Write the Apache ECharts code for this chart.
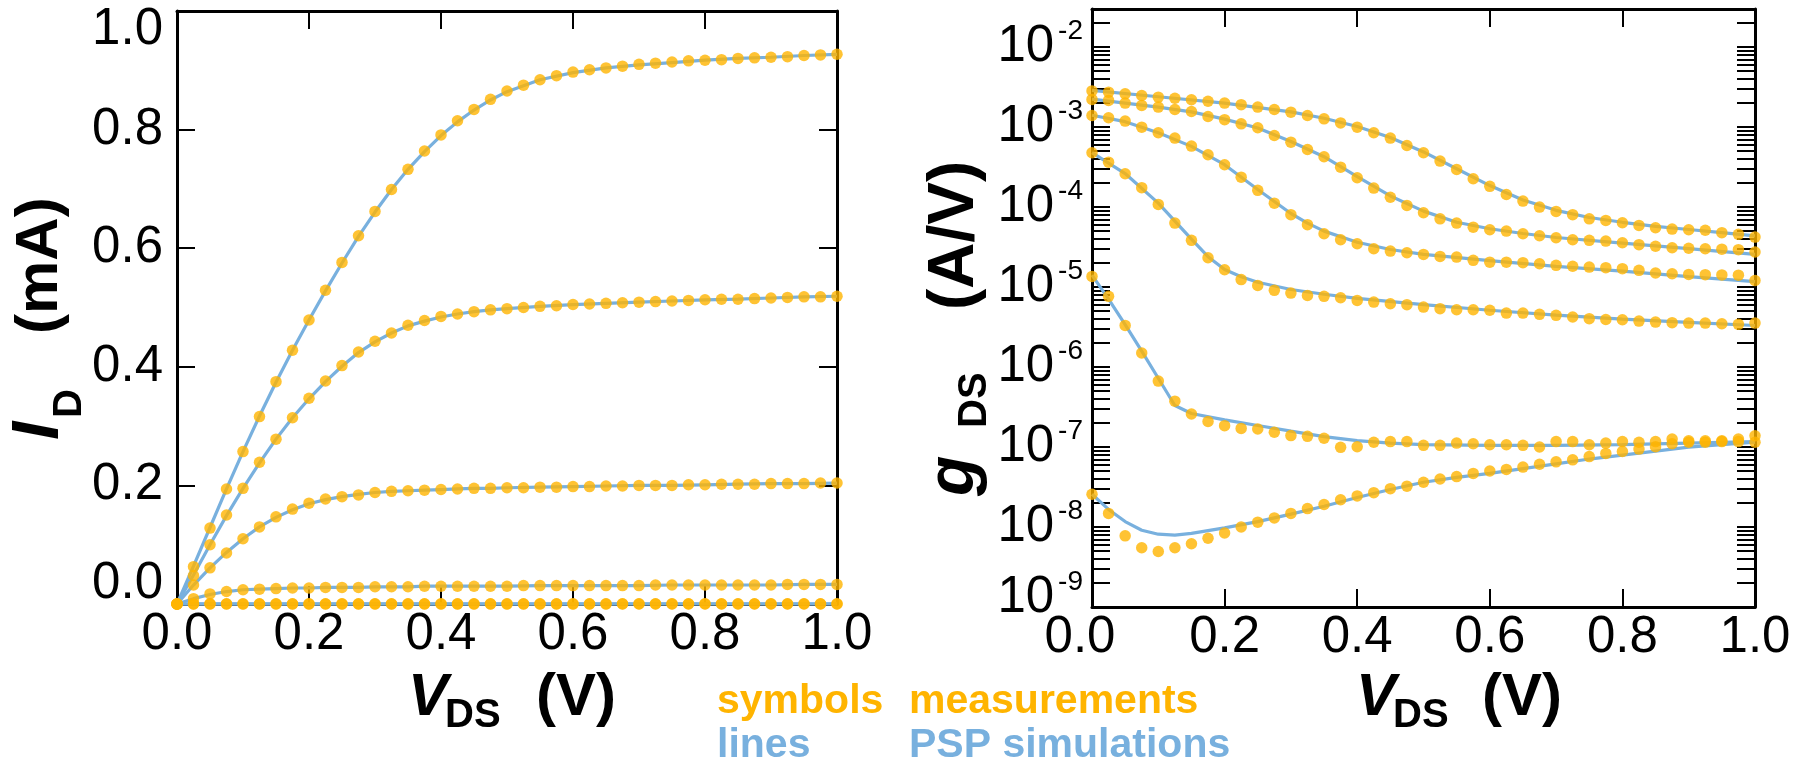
<!DOCTYPE html>
<html><head><meta charset="utf-8">
<script src="https://cdn.jsdelivr.net/npm/echarts@6/dist/echarts.min.js"></script>
<style>html,body{margin:0;padding:0;background:#fff}#c{width:1798px;height:762px}</style>
</head><body><div id="c"></div>
<script>
// ---------- DATA ----------
const vds = [0,0.025,0.05,0.075,0.1,0.125,0.15,0.175,0.2,0.225,0.25,0.275,0.3,0.325,0.35,0.375,0.4,0.425,0.45,0.475,0.5,0.525,0.55,0.575,0.6,0.625,0.65,0.675,0.7,0.725,0.75,0.775,0.8,0.825,0.85,0.875,0.9,0.925,0.95,0.975,1.0];

// I_D measurements (mA)
const idMeas1 = [0,0.063,0.128,0.194,0.257,0.316,0.375,0.428,0.479,0.529,0.576,0.621,0.662,0.699,0.733,0.764,0.791,0.815,0.834,0.851,0.865,0.875,0.884,0.891,0.897,0.901,0.904,0.907,0.910,0.912,0.914,0.916,0.917,0.918,0.920,0.921,0.922,0.923,0.925,0.926,0.927];
const idMeas2 = [0,0.048,0.100,0.150,0.195,0.239,0.278,0.314,0.347,0.376,0.402,0.425,0.443,0.457,0.470,0.478,0.485,0.489,0.493,0.496,0.498,0.500,0.502,0.503,0.505,0.506,0.507,0.508,0.509,0.510,0.511,0.512,0.513,0.514,0.514,0.515,0.516,0.517,0.518,0.518,0.519];
const idMeas3 = [0,0.032,0.061,0.086,0.110,0.130,0.147,0.160,0.170,0.177,0.181,0.184,0.188,0.190,0.191,0.192,0.193,0.194,0.195,0.195,0.196,0.196,0.197,0.197,0.198,0.198,0.199,0.199,0.200,0.200,0.200,0.201,0.201,0.202,0.202,0.202,0.203,0.203,0.203,0.204,0.204];
const idMeas4 = [0,0.009,0.017,0.021,0.024,0.025,0.026,0.027,0.027,0.028,0.028,0.028,0.029,0.029,0.029,0.030,0.030,0.030,0.030,0.030,0.030,0.031,0.031,0.031,0.031,0.031,0.031,0.031,0.031,0.032,0.032,0.032,0.032,0.032,0.032,0.032,0.032,0.033,0.033,0.033,0.033];
const idMeas5 = [0,0.0002,0.0003,0.0003,0.0003,0.0003,0.0003,0.0003,0.0003,0.0003,0.0003,0.0003,0.0003,0.0003,0.0003,0.0003,0.0003,0.0003,0.0003,0.0003,0.0003,0.0003,0.0003,0.0003,0.0003,0.0003,0.0003,0.0004,0.0004,0.0004,0.0004,0.0004,0.0004,0.0004,0.0004,0.0004,0.0004,0.0004,0.0004,0.0004,0.0004];
const idMeas6 = [0,0.00001,0.00001,0.00001,0.00001,0.00001,0.00001,0.00001,0.00001,0.00001,0.00001,0.00001,0.00001,0.00001,0.00001,0.00001,0.00001,0.00001,0.00001,0.00001,0.00001,0.00002,0.00002,0.00002,0.00002,0.00002,0.00002,0.00002,0.00002,0.00002,0.00002,0.00002,0.00002,0.00002,0.00002,0.00002,0.00002,0.00002,0.00002,0.00002,0.00002];

// I_D PSP simulations (mA) - lines run through the symbols
const idSimV = [0,0.025,0.05,0.075,0.1,0.125,0.15,0.175,0.2,0.225,0.25,0.275,0.3,0.325,0.35,0.375,0.4,0.425,0.45,0.475,0.5,0.55,0.6,0.65,0.7,0.75,0.8,0.85,0.9,0.95,1.0];
const idSim1 = [0,0.064,0.129,0.194,0.257,0.317,0.374,0.428,0.479,0.528,0.575,0.620,0.661,0.699,0.733,0.763,0.790,0.813,0.833,0.850,0.864,0.884,0.896,0.904,0.909,0.913,0.917,0.920,0.922,0.925,0.927];
const idSim2 = [0,0.049,0.100,0.149,0.195,0.238,0.278,0.314,0.346,0.375,0.401,0.424,0.442,0.457,0.469,0.477,0.484,0.489,0.493,0.496,0.498,0.502,0.505,0.507,0.509,0.511,0.513,0.514,0.516,0.518,0.519];
const idSim3 = [0,0.032,0.061,0.087,0.110,0.130,0.146,0.159,0.169,0.176,0.181,0.185,0.188,0.190,0.191,0.192,0.193,0.194,0.195,0.195,0.196,0.197,0.198,0.199,0.200,0.200,0.201,0.202,0.203,0.203,0.204];
const idSim4 = [0,0.009,0.016,0.021,0.024,0.025,0.026,0.027,0.027,0.028,0.028,0.028,0.029,0.029,0.029,0.030,0.030,0.030,0.030,0.030,0.030,0.031,0.031,0.031,0.031,0.032,0.032,0.032,0.032,0.033,0.033];
const idSim5 = [0,0.0002,0.0003,0.0003,0.0003,0.0003,0.0003,0.0003,0.0003,0.0003,0.0003,0.0003,0.0003,0.0003,0.0003,0.0003,0.0003,0.0003,0.0003,0.0003,0.0003,0.0003,0.0003,0.0003,0.0004,0.0004,0.0004,0.0004,0.0004,0.0004,0.0004];
const idSim6 = [0,0.00001,0.00001,0.00001,0.00001,0.00001,0.00001,0.00001,0.00001,0.00001,0.00001,0.00001,0.00001,0.00001,0.00001,0.00001,0.00001,0.00001,0.00001,0.00001,0.00001,0.00002,0.00002,0.00002,0.00002,0.00002,0.00002,0.00002,0.00002,0.00002,0.00002];

// g_DS measurements (A/V)
const gMeasA = [2.84e-3,2.74e-3,2.61e-3,2.49e-3,2.37e-3,2.30e-3,2.20e-3,2.11e-3,2.00e-3,1.91e-3,1.78e-3,1.66e-3,1.54e-3,1.40e-3,1.27e-3,1.13e-3,1.00e-3,8.51e-4,7.29e-4,5.90e-4,4.79e-4,3.76e-4,2.96e-4,2.26e-4,1.82e-4,1.44e-4,1.19e-4,1.00e-4,8.83e-5,8.04e-5,7.14e-5,6.82e-5,6.38e-5,5.90e-5,5.52e-5,5.31e-5,5.21e-5,5.13e-5,4.79e-5,4.57e-5,4.22e-5];
const gMeasB = [2.22e-3,2.16e-3,2.00e-3,1.87e-3,1.78e-3,1.66e-3,1.57e-3,1.36e-3,1.24e-3,1.10e-3,9.82e-4,7.87e-4,6.49e-4,5.26e-4,4.26e-4,3.16e-4,2.33e-4,1.73e-4,1.33e-4,1.05e-4,8.51e-5,7.14e-5,6.31e-5,5.62e-5,5.21e-5,5.01e-5,4.65e-5,4.39e-5,4.14e-5,3.91e-5,3.84e-5,3.76e-5,3.58e-5,3.39e-5,3.24e-5,3.10e-5,3.06e-5,3.02e-5,2.98e-5,2.94e-5,2.75e-5];
const gMeasC = [1.40e-3,1.31e-3,1.19e-3,1.00e-3,8.51e-4,7.29e-4,5.79e-4,4.52e-4,3.39e-4,2.37e-4,1.62e-4,1.12e-4,8.04e-5,6.03e-5,4.65e-5,3.91e-5,3.48e-5,3.02e-5,2.82e-5,2.69e-5,2.56e-5,2.42e-5,2.37e-5,2.16e-5,2.05e-5,2.05e-5,2.02e-5,1.96e-5,1.87e-5,1.82e-5,1.78e-5,1.75e-5,1.70e-5,1.62e-5,1.50e-5,1.47e-5,1.44e-5,1.43e-5,1.42e-5,1.41e-5,1.21e-5];
const gMeasD = [4.79e-4,3.65e-4,2.61e-4,1.75e-4,1.08e-4,6.31e-5,3.84e-5,2.33e-5,1.65e-5,1.24e-5,1.05e-5,9.10e-6,8.41e-6,7.87e-6,7.66e-6,7.36e-6,6.82e-6,6.49e-6,6.19e-6,6.03e-6,5.62e-6,5.37e-6,5.21e-6,5.21e-6,5.13e-6,4.73e-6,4.73e-6,4.56e-6,4.43e-6,4.22e-6,4.03e-6,3.94e-6,3.91e-6,3.76e-6,3.65e-6,3.59e-6,3.55e-6,3.55e-6,3.48e-6,3.42e-6,3.55e-6];
const gMeasE = [1.36e-5,7.66e-6,3.32e-6,1.50e-6,6.68e-7,3.75e-7,2.59e-7,2.09e-7,1.85e-7,1.71e-7,1.68e-7,1.53e-7,1.39e-7,1.36e-7,1.29e-7,9.91e-8,1.01e-7,1.15e-7,1.17e-7,1.17e-7,1.05e-7,1.05e-7,1.12e-7,1.10e-7,1.07e-7,1.07e-7,1.05e-7,1.00e-7,1.17e-7,1.17e-7,1.07e-7,1.12e-7,1.17e-7,1.15e-7,1.17e-7,1.26e-7,1.20e-7,1.20e-7,1.20e-7,1.26e-7,1.38e-7];
const gMeasF = [2.57e-8,1.48e-8,7.76e-9,5.50e-9,4.95e-9,5.50e-9,6.17e-9,7.24e-9,8.41e-9,1.00e-8,1.15e-8,1.30e-8,1.48e-8,1.70e-8,1.91e-8,2.19e-8,2.45e-8,2.69e-8,3.02e-8,3.24e-8,3.63e-8,3.98e-8,4.27e-8,4.68e-8,5.01e-8,5.25e-8,5.62e-8,6.10e-8,6.53e-8,6.92e-8,7.59e-8,8.32e-8,8.81e-8,9.42e-8,1.01e-7,1.10e-7,1.15e-7,1.15e-7,1.17e-7,1.17e-7,1.15e-7];

// g_DS PSP simulations (A/V)
const gSimVA = [0,0.1,0.2,0.3,0.35,0.4,0.45,0.5,0.55,0.6,0.65,0.7,0.75,0.8,0.85,0.9,0.95,1.0];
const gSimA  = [2.88e-3,2.40e-3,2.00e-3,1.55e-3,1.29e-3,1.02e-3,7.41e-4,4.90e-4,3.02e-4,1.86e-4,1.23e-4,9.12e-5,7.41e-5,6.46e-5,5.75e-5,5.25e-5,4.79e-5,4.37e-5];
const gSimVB = [0,0.05,0.1,0.15,0.2,0.25,0.3,0.35,0.4,0.45,0.5,0.55,0.6,0.65,0.7,0.8,0.9,1.0];
const gSimB  = [2.24e-3,2.00e-3,1.78e-3,1.55e-3,1.26e-3,9.77e-4,6.61e-4,4.27e-4,2.40e-4,1.38e-4,8.91e-5,6.46e-5,5.37e-5,4.68e-5,4.17e-5,3.55e-5,3.02e-5,2.57e-5];
const gSimVC = [0,0.05,0.1,0.15,0.2,0.25,0.3,0.325,0.35,0.4,0.45,0.5,0.6,0.7,0.8,0.9,1.0];
const gSimC  = [1.41e-3,1.17e-3,8.51e-4,5.75e-4,3.39e-4,1.66e-4,8.32e-5,6.31e-5,5.01e-5,3.63e-5,2.95e-5,2.57e-5,2.14e-5,1.82e-5,1.58e-5,1.35e-5,1.17e-5];
const gSimVD = [0,0.05,0.1,0.15,0.175,0.2,0.225,0.25,0.3,0.35,0.4,0.5,0.6,0.7,0.8,0.9,1.0];
const gSimD  = [4.79e-4,2.63e-4,1.12e-4,3.98e-5,2.40e-5,1.66e-5,1.35e-5,1.15e-5,9.33e-6,8.13e-6,7.24e-6,6.03e-6,5.13e-6,4.47e-6,3.98e-6,3.63e-6,3.31e-6];
const gSimVE = [0,0.025,0.05,0.075,0.1,0.125,0.15,0.2,0.25,0.3,0.35,0.4,0.45,0.5,0.6,0.7,0.8,0.9,1.0];
const gSimE  = [1.41e-5,7.08e-6,3.39e-6,1.58e-6,7.24e-7,3.31e-7,2.63e-7,2.19e-7,1.86e-7,1.58e-7,1.35e-7,1.20e-7,1.12e-7,1.07e-7,1.05e-7,1.05e-7,1.07e-7,1.12e-7,1.17e-7];
const gSimVF = [0,0.025,0.05,0.075,0.1,0.125,0.15,0.2,0.25,0.3,0.35,0.4,0.45,0.5,0.55,0.6,0.65,0.7,0.75,0.8,0.85,0.9,0.95,1.0];
const gSimF  = [2.57e-8,1.66e-8,1.17e-8,9.12e-9,8.13e-9,7.94e-9,8.32e-9,9.77e-9,1.17e-8,1.45e-8,1.82e-8,2.34e-8,2.95e-8,3.63e-8,4.17e-8,4.68e-8,5.37e-8,6.17e-8,7.08e-8,7.94e-8,8.91e-8,1.00e-7,1.07e-7,1.15e-7];

// tick labels
const xTickLabels = ['0.0','0.2','0.4','0.6','0.8','1.0'];
const yLinLabels = ['0.0','0.2','0.4','0.6','0.8','1.0'];
const gDecades = [1e-9,1e-8,1e-7,1e-6,1e-5,1e-4,1e-3,1e-2];

// ---------- STYLE ----------
const ORANGE = '#FFB400';
const BLUE = '#78B0DE';
const LF = '"Liberation Sans", Arial, sans-serif';
const TF = '"Liberation Sans", Arial, sans-serif';
const LFS = 51;

const zip = (xs, ys) => xs.map((x, i) => [x, ys[i]]);

const logTicks = [];
for (let e = -9; e <= -2; e++) {
  for (let k = 1; k <= 9; k++) {
    const v = k * Math.pow(10, e);
    if (v <= 0.0300001) logTicks.push(v);
  }
}

const axLine = {show: true, onZero: false, lineStyle: {color: '#000', width: 3}};
const axTick = {show: true, inside: true, length: 18, lineStyle: {color: '#000', width: 2}};

function linX(grid, pos, labels, minShift) {
  return {
    type: 'value', gridIndex: grid, position: pos, min: 0, max: 1, interval: 0.2,
    axisLine: axLine, axisTick: axTick, splitLine: {show: false},
    axisLabel: labels ? {
      show: true, margin: 5, color: '#000', showMinLabel: true, showMaxLabel: true,
      formatter: v => {
        const s = xTickLabels[Math.round(v / 0.2)];
        return (v === 0 && minShift) ? '{z|' + s + '}' : '{n|' + s + '}';
      },
      rich: {
        n: {fontFamily: LF, fontSize: LFS, color: '#000'},
        z: {fontFamily: LF, fontSize: LFS, color: '#000', padding: [0, 24, 0, 0]}
      }
    } : {show: false}
  };
}

function linY(grid, pos, labels) {
  return {
    type: 'value', gridIndex: grid, position: pos, min: 0, max: 1, interval: 0.2,
    axisLine: axLine, axisTick: axTick, splitLine: {show: false},
    axisLabel: labels ? {
      show: true, margin: 14, color: '#000', showMinLabel: true, showMaxLabel: true,
      formatter: v => {
        const s = yLinLabels[Math.round(v / 0.2)];
        if (v === 0) return '{lo|' + s + '}';
        if (Math.abs(v - 1) < 1e-9) return '{hi|' + s + '}';
        return '{n|' + s + '}';
      },
      rich: {
        n:  {fontFamily: LF, fontSize: LFS, color: '#000', lineHeight: 58},
        lo: {fontFamily: LF, fontSize: LFS, color: '#000', lineHeight: 58, padding: [0, 0, 40, 0]},
        hi: {fontFamily: LF, fontSize: LFS, color: '#000', lineHeight: 58, padding: [38, 0, 0, 0]}
      }
    } : {show: false}
  };
}

function logY(grid, pos, labels) {
  return {
    type: 'log', logBase: 10, gridIndex: grid, position: pos, min: 1e-9, max: 0.03,
    axisLine: axLine,
    axisTick: Object.assign({}, axTick, {customValues: logTicks}),
    minorTick: {show: false}, splitLine: {show: false},
    axisLabel: labels ? {
      show: true, margin: 9, color: '#000', customValues: gDecades,
      showMinLabel: true, showMaxLabel: true,
      formatter: v => {
        const e = Math.round(Math.log10(v));
        if (e === -9) return '{b|10}{bs|' + e + '}';
        return '{a|10}{s|' + e + '}';
      },
      rich: {
        a:  {fontFamily: LF, fontSize: LFS, color: '#000', lineHeight: 58},
        s:  {fontFamily: LF, fontSize: 28, color: '#000', lineHeight: 58, padding: [0, 0, 32, 4]},
        b:  {fontFamily: LF, fontSize: LFS, color: '#000', lineHeight: 58, padding: [0, 0, 18, 0]},
        bs: {fontFamily: LF, fontSize: 28, color: '#000', lineHeight: 58, padding: [0, 0, 50, 4]}
      }
    } : {show: false}
  };
}

// ---------- SERIES ----------
const series = [];
const idSims = [idSim1, idSim2, idSim3, idSim4, idSim5, idSim6];
const idMeas = [idMeas1, idMeas2, idMeas3, idMeas4, idMeas5, idMeas6];
const gSims = [[gSimVA, gSimA], [gSimVB, gSimB], [gSimVC, gSimC], [gSimVD, gSimD], [gSimVE, gSimE], [gSimVF, gSimF]];
const gMeas = [gMeasA, gMeasB, gMeasC, gMeasD, gMeasE, gMeasF];

idSims.forEach(d => series.push({
  type: 'line', xAxisIndex: 0, yAxisIndex: 0, data: zip(idSimV, d),
  symbol: 'none', smooth: false, clip: false, silent: true,
  lineStyle: {color: BLUE, width: 3.2}, z: 3
}));
gSims.forEach(([v, d]) => series.push({
  type: 'line', xAxisIndex: 2, yAxisIndex: 2, data: zip(v, d),
  symbol: 'none', smooth: false, clip: false, silent: true,
  lineStyle: {color: BLUE, width: 3.2}, z: 3
}));
idMeas.forEach(d => series.push({
  type: 'scatter', xAxisIndex: 0, yAxisIndex: 0, data: zip(vds, d),
  symbol: 'circle', symbolSize: 11.5, clip: false, silent: true,
  itemStyle: {color: ORANGE}, z: 5
}));
gMeas.forEach(d => series.push({
  type: 'scatter', xAxisIndex: 2, yAxisIndex: 2, data: zip(vds, d),
  symbol: 'circle', symbolSize: 11.5, clip: false, silent: true,
  itemStyle: {color: ORANGE}, z: 5
}));

// ---------- TEXT ----------
function t(x, y, text, font, color) {
  return {type: 'text', x: x, y: y, silent: true,
    style: {text: text, font: font, fill: color || '#000',
      align: 'left', verticalAlign: 'middle', textAlign: 'left', textVerticalAlign: 'middle'}};
}
const BIG = 'bold 60px ' + TF;
const BIG2 = 'bold 64px ' + TF;
const BIGI = 'italic bold 60px ' + TF;
const HUGEI = 'italic bold 66px ' + TF;
const SUB = 'bold 40px ' + TF;
const LEG = 'bold 41px ' + TF;

const graphic = [
  // left x title
  t(408, 698, 'V', BIGI), t(445, 716, 'DS', SUB), t(536, 698, '(V)', BIG),
  // right x title
  t(1356, 698, 'V', BIGI), t(1393, 716, 'DS', SUB), t(1482, 698, '(V)', BIG),
  // legend texts
  t(717, 702, 'symbols', LEG, ORANGE), t(909, 702, 'measurements', LEG, ORANGE),
  t(717, 746, 'lines', LEG, BLUE), t(909, 746, 'PSP simulations', LEG, BLUE),
  // left y title
  {type: 'group', x: 40, y: 440, rotation: Math.PI / 2, children: [
    t(0, 0, 'I', HUGEI), t(22, 30, 'D', SUB), t(106, 0, '(mA)', BIG)
  ]},
  // right y title
  {type: 'group', x: 955, y: 496, rotation: Math.PI / 2, children: [
    t(0, 0, 'g', HUGEI), t(68, 20, 'DS', SUB), t(186, 0, '(A/V)', BIG2)
  ]}
];

const option = {
  backgroundColor: '#fff',
  animation: false,
  grid: [
    {left: 177, top: 11, width: 660, height: 593, containLabel: false, outerBoundsMode: 'none'},
    {left: 1092, top: 9, width: 663, height: 598, containLabel: false, outerBoundsMode: 'none'}
  ],
  xAxis: [linX(0, 'bottom', true, false), linX(0, 'top', false, false),
          linX(1, 'bottom', true, true), linX(1, 'top', false, false)],
  yAxis: [linY(0, 'left', true), linY(0, 'right', false),
          logY(1, 'left', true), logY(1, 'right', false)],
  series: series,
  graphic: graphic
};

const chart = echarts.init(document.getElementById('c'), null, {renderer: 'canvas'});
chart.setOption(option);
</script>
</body></html>
